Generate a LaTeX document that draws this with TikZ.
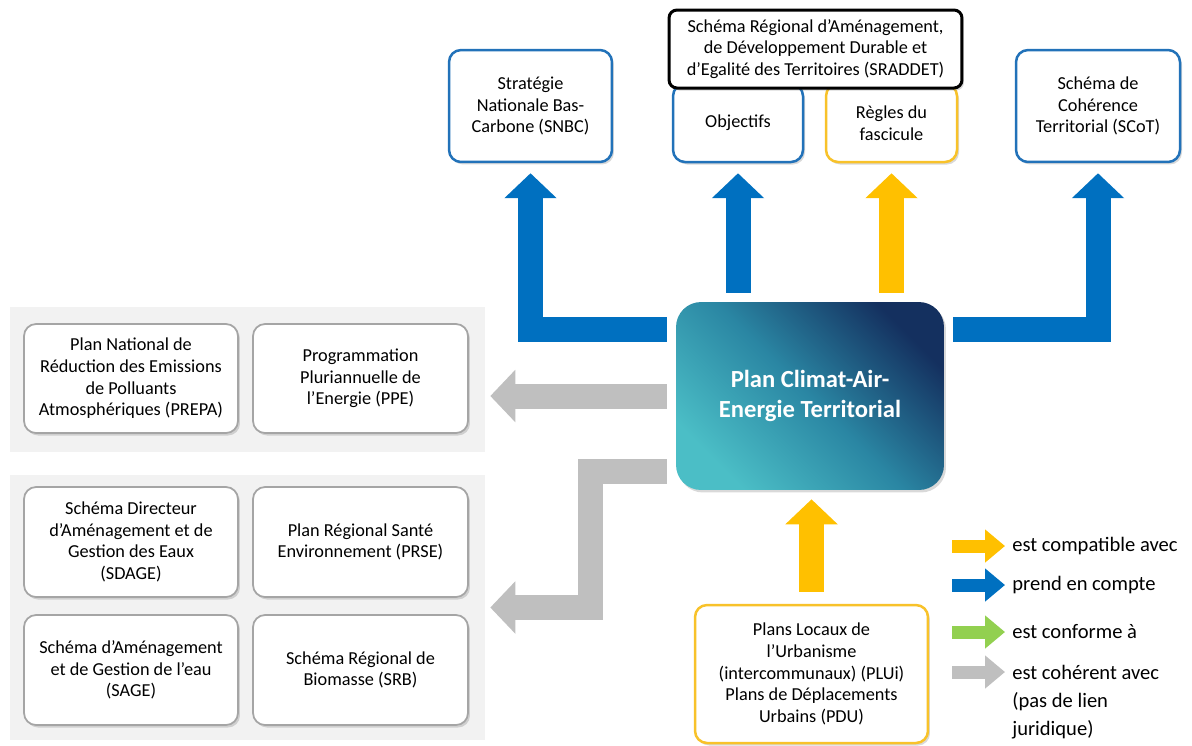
\documentclass[tikz,border=0pt]{standalone}
\usepackage{fontspec}
\setmainfont{Carlito}
\usetikzlibrary{arrows.meta, positioning, shadows, calc}

\definecolor{flowblue}{HTML}{0070C0}
\definecolor{flowgold}{HTML}{FFC000}
\definecolor{flowgreen}{HTML}{92D050}
\definecolor{flowgrey}{HTML}{BFBFBF}
\definecolor{boxblue}{HTML}{2272B9}
\definecolor{boxgold}{HTML}{F8C22A}
\definecolor{boxgrey}{HTML}{A5A5A5}
\definecolor{panelgrey}{HTML}{F2F2F2}
\definecolor{pcaetdark}{HTML}{14305F}
\definecolor{pcaetmid}{HTML}{2A86A3}
\definecolor{pcaetlight}{HTML}{4BBEC6}

\begin{document}
\begin{tikzpicture}[x=0.02cm, y=-0.02cm,
    box/.style={draw, rounded corners=0.24cm, fill=white, line width=0.05cm, align=center,
      inner sep=0pt, font=\fontsize{10.4}{12.3}\selectfont,
      drop shadow={shadow xshift=0.04cm, shadow yshift=-0.05cm, opacity=0.3}},
    bluebox/.style={box, draw=boxblue},
    goldbox/.style={box, draw=boxgold},
    greybox/.style={box, draw=boxgrey, line width=0.035cm},
    panel/.style={fill=panelgrey, inner sep=0pt},
    flow/.style={line width=0.5cm, draw=#1, -{Triangle[length=0.5cm, width=1.02cm]},
      shorten <=0.18cm, shorten >=0.2cm},
    key/.style={line width=0.26cm, draw=#1, -{Triangle[length=0.4cm, width=0.64cm]},
      shorten >=0.14cm},
    keytext/.style={anchor=west, inner sep=0pt, align=left, font=\fontsize{11.7}{15.9}\selectfont}
  ]
  \useasboundingbox (0,0) rectangle (1192,745);

  % grey groups on the left
  \node[panel, minimum width=9.5cm, minimum height=2.9cm] (panelone) at (247.5,379.5) {};
  \node[panel, minimum width=9.5cm, minimum height=5.3cm] (paneltwo) at (247.5,607.5) {};

  \node[greybox, minimum width=4.28cm, minimum height=2.18cm] (prepa) at (131,378.5)
    {Plan National de\\Réduction des Emissions\\de Polluants\\Atmosphériques (PREPA)};
  \node[greybox, minimum width=4.3cm, minimum height=2.18cm] (ppe) at (360.5,378.5)
    {Programmation\\Pluriannuelle de\\l’Energie (PPE)};
  \node[greybox, minimum width=4.28cm, minimum height=2.2cm] (sdage) at (131,542)
    {Schéma Directeur\\d’Aménagement et de\\Gestion des Eaux\\(SDAGE)};
  \node[greybox, minimum width=4.3cm, minimum height=2.2cm] (prse) at (360.5,542)
    {Plan Régional Santé\\Environnement (PRSE)};
  \node[greybox, minimum width=4.28cm, minimum height=2.2cm] (sage) at (131,670)
    {Schéma d’Aménagement\\et de Gestion de l’eau\\(SAGE)};
  \node[greybox, minimum width=4.3cm, minimum height=2.2cm] (srb) at (360.5,670)
    {Schéma Régional de\\Biomasse (SRB)};

  % upper documents
  \node[bluebox, minimum width=3.26cm, minimum height=2.24cm] (snbc) at (530.5,106)
    {Stratégie\\Nationale Bas-\\Carbone (SNBC)};
  \node[bluebox, minimum width=2.6cm, minimum height=1.56cm] (objectifs) at (738,123) {Objectifs};
  \node[goldbox, minimum width=2.62cm, minimum height=1.56cm] (regles) at (891.5,123)
    {Règles du\\fascicule};
  \node[box, draw=black, line width=0.06cm, rounded corners=0.16cm,
    minimum width=5.86cm, minimum height=1.56cm] (sraddet) at (815.5,49)
    {Schéma Régional d’Aménagement,\\de Développement Durable et\\d’Egalité des Territoires (SRADDET)};
  \node[bluebox, minimum width=3.28cm, minimum height=2.24cm] (scot) at (1098,106)
    {Schéma de\\Cohérence\\Territorial (SCoT)};

  % the plan itself
  \node[rounded corners=0.5cm, minimum width=5.36cm, minimum height=3.76cm, align=center,
    text=white, font=\fontsize{14}{17}\selectfont\bfseries,
    top color=pcaetdark, bottom color=pcaetlight, middle color=pcaetmid, shading angle=-45,
    drop shadow={shadow xshift=0.04cm, shadow yshift=-0.05cm, opacity=0.3}]
    (pcaet) at (810,396) {Plan Climat-Air-\\Energie Territorial};

  \node[goldbox, minimum width=4.66cm, minimum height=2.76cm] (plu) at (811.5,674)
    {Plans Locaux de\\l’Urbanisme\\(intercommunaux) (PLUi)\\Plans de Déplacements\\Urbains (PDU)};

  \coordinate (upperrow) at (0,329.5);
  \coordinate (lowerrow) at (0,471);
  \coordinate (greyknee) at (590,0);

  \draw[flow=flowblue] (pcaet.west |- upperrow) -| (snbc.south);
  \draw[flow=flowblue] (pcaet.east |- upperrow) -| (scot.south);
  \draw[flow=flowblue] (objectifs.south |- pcaet.north) -- (objectifs.south);
  \draw[flow=flowgold] (regles.south |- pcaet.north) -- (regles.south);
  \draw[flow=flowgrey, shorten >=0.1cm] (pcaet.west) -- (pcaet.west -| panelone.east);
  \draw[flow=flowgrey, shorten >=0.1cm] (pcaet.west |- lowerrow) -| (greyknee |- paneltwo.east)
    -- (paneltwo.east);
  \draw[flow=flowgold, shorten <=0.24cm, shorten >=0.18cm] (plu.north) -- (plu.north |- pcaet.south);

  % legend
  \node[keytext] (kcompat) at (1012,546) {est compatible avec};
  \node[keytext] (kcompte) at (1012,585) {prend en compte};
  \node[keytext] (kconforme) at (1012,632) {est conforme à};
  \node[keytext, anchor=north west] (kcoherent) at (1012,665)
    {est cohérent avec\\(pas de lien\\juridique)};

  \draw[key=flowgold] ([xshift=-1.2cm]kcompat.west) -- (kcompat.west);
  \draw[key=flowblue] ([xshift=-1.2cm]kcompte.west) -- (kcompte.west);
  \draw[key=flowgreen] ([xshift=-1.2cm]kconforme.west) -- (kconforme.west);
  \draw[key=flowgrey] ([xshift=-1.2cm, yshift=-0.14cm]kcoherent.north west)
    -- ([yshift=-0.14cm]kcoherent.north west);
\end{tikzpicture}
\end{document}
